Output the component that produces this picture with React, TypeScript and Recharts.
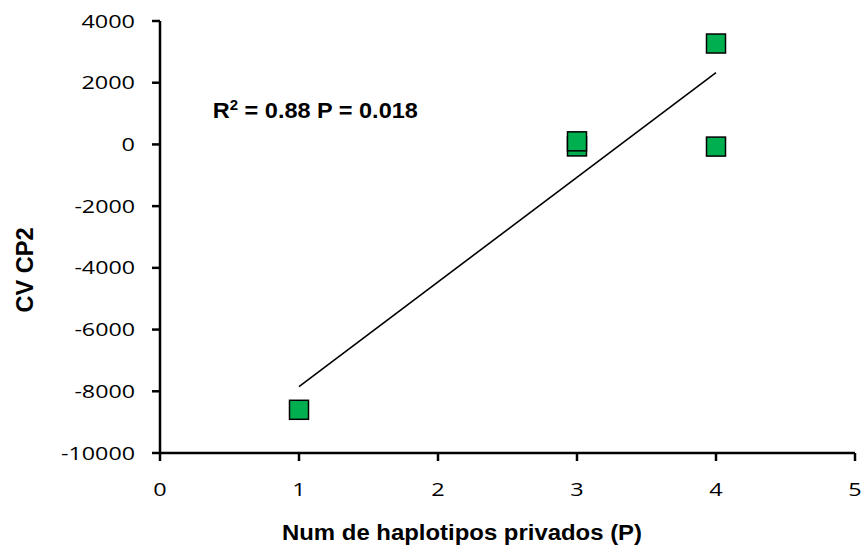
import React from 'react';
import {
  ScatterChart,
  Scatter,
  XAxis,
  YAxis,
  ReferenceLine,
  ReferenceDot,
} from 'recharts';

// ---- data ----
const xValues = [1, 3, 3, 4, 4];
const cvValues = [-8600, -65, 100, -70, 3270];
const xTicks = [0, 1, 2, 3, 4, 5];
const yTicks = [-10000, -8000, -6000, -4000, -2000, 0, 2000, 4000];
const trendX = [1, 4];
const trendY = [-7850, 2330];
const xTitle = 'Num de haplotipos privados (P)';
const yTitle = 'CV CP2';
const statText = ' = 0.88 P = 0.018';

const points = xValues.map((x, i) => ({ x, y: cvValues[i] }));
const trendSegment = trendX.map((x, i) => ({ x, y: trendY[i] }));

const TICK_FONT = '"Open Sans", Lato, sans-serif';
const BOLD_FONT = '"Liberation Sans", Arial, sans-serif';

const tickLen = (s: string) => {
  const neg = s.startsWith('-');
  const digits = neg ? s.length - 1 : s.length;
  return digits * 13.4 + (neg ? 7 : 0);
};

const XTick = (props: any) => {
  const { x, y, payload } = props;
  const s = String(payload.value);
  return (
    <text
      x={x}
      y={y + 35}
      textAnchor="middle"
      fontFamily={TICK_FONT}
      fontSize={18.5}
      fill="#000"
      textLength={tickLen(s)}
      lengthAdjust="spacingAndGlyphs"
    >
      {s}
    </text>
  );
};

const YTick = (props: any) => {
  const { x, y, payload } = props;
  const s = String(payload.value);
  return (
    <text
      x={x}
      y={y + 6.5}
      textAnchor="end"
      fontFamily={TICK_FONT}
      fontSize={18.5}
      fill="#000"
      textLength={tickLen(s)}
      lengthAdjust="spacingAndGlyphs"
    >
      {s}
    </text>
  );
};

const Square = (props: any) => {
  const { cx, cy } = props;
  return (
    <rect
      x={cx - 9.5}
      y={cy - 9.5}
      width={19}
      height={19}
      fill="#00B050"
      stroke="#000"
      strokeWidth={1.5}
    />
  );
};

const renderXTitle = () => (
  <text
    x={462}
    y={540}
    textAnchor="middle"
    fontFamily={BOLD_FONT}
    fontWeight="bold"
    fontSize={21.5}
    fill="#000"
    textLength={360}
    lengthAdjust="spacingAndGlyphs"
  >
    {xTitle}
  </text>
);

const renderYTitle = () => (
  <text
    x={33}
    y={270}
    transform="rotate(-90, 33, 270)"
    textAnchor="middle"
    fontFamily={BOLD_FONT}
    fontWeight="bold"
    fontSize={23}
    fill="#000"
    textLength={85}
    lengthAdjust="spacingAndGlyphs"
  >
    {yTitle}
  </text>
);

const renderStat = (props: any) => {
  const vb = props.viewBox || { x: 0, y: 0, width: 0, height: 0 };
  const cx = vb.x + (vb.width || 0) / 2;
  const cy = vb.y + (vb.height || 0) / 2;
  return (
    <text
      x={cx}
      y={cy}
      textAnchor="start"
      fontFamily={BOLD_FONT}
      fontWeight="bold"
      fontSize={22}
      fill="#000"
      textLength={205}
      lengthAdjust="spacingAndGlyphs"
    >
      <tspan>R</tspan>
      <tspan fontSize={14} dy={-8}>2</tspan>
      <tspan dy={8}>{statText}</tspan>
    </text>
  );
};

export default function App() {
  return (
    <div style={{ position: 'absolute', left: 0, top: 0, background: '#fff' }}>
      <ScatterChart
        width={866}
        height={554}
        margin={{ top: 21, right: 11, bottom: 71, left: 100 }}
      >
        <XAxis
          type="number"
          dataKey="x"
          domain={[0, 5]}
          ticks={xTicks}
          interval={0}
          allowDataOverflow
          height={30}
          axisLine={{ stroke: '#000', strokeWidth: 2.5 }}
          tickLine={{ stroke: '#000', strokeWidth: 2.5 }}
          tickSize={8}
          tickMargin={0}
          tick={XTick}
          label={renderXTitle}
        />
        <YAxis
          type="number"
          dataKey="y"
          domain={[-10000, 4000]}
          ticks={yTicks}
          interval={0}
          allowDataOverflow
          width={60}
          axisLine={{ stroke: '#000', strokeWidth: 2.5 }}
          tickLine={{ stroke: '#000', strokeWidth: 2.5 }}
          tickSize={8}
          tickMargin={17}
          tick={YTick}
          label={renderYTitle}
        />
        <ReferenceLine
          segment={trendSegment}
          stroke="#000"
          strokeWidth={1.6}
          ifOverflow="visible"
        />
        <ReferenceDot
          x={0.38}
          y={870}
          r={1}
          fill="none"
          stroke="none"
          ifOverflow="visible"
          label={renderStat}
        />
        <Scatter data={points} shape={Square} isAnimationActive={false} />
      </ScatterChart>
    </div>
  );
}
